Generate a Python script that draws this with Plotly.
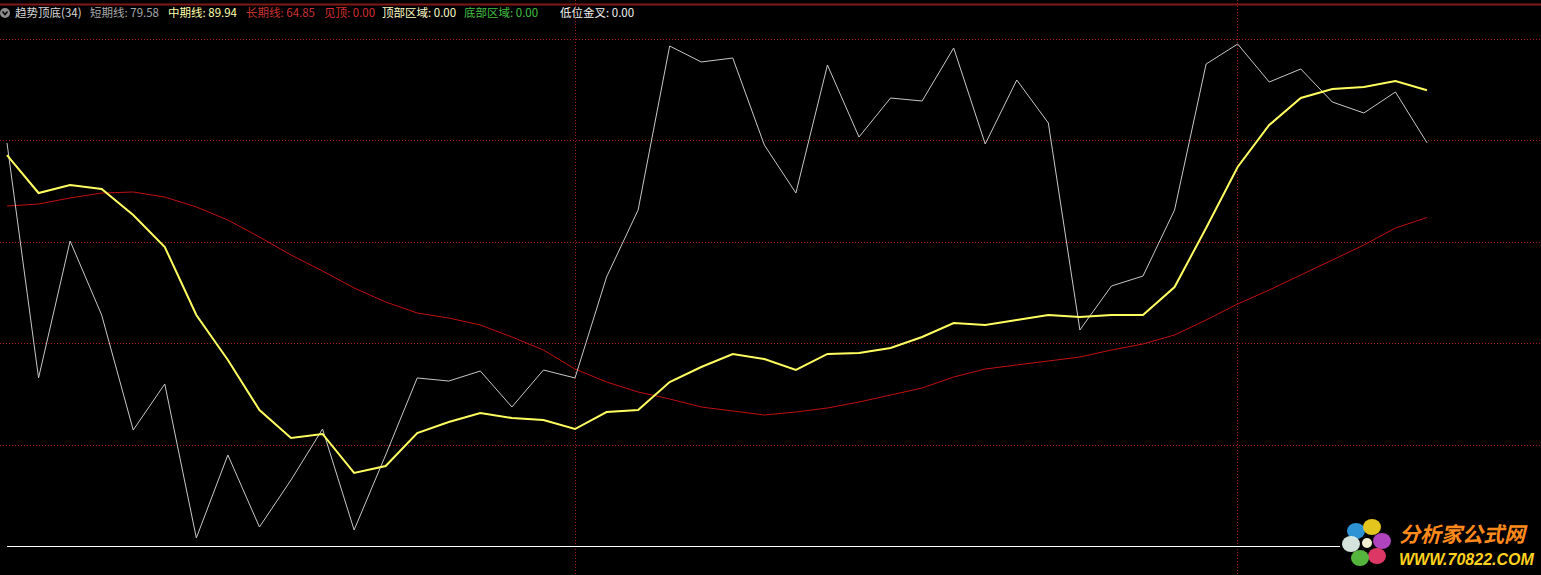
import plotly.graph_objects as go

W, H = 1541, 575

# ---- data ----
short_line = [79.54, 33.22, 60.22, 45.63, 22.96, 32.03, 1.68, 18.04, 3.84, 13.11,
              23.16, 3.25, 18.04, 33.22, 32.62, 34.59, 27.50, 34.79, 33.22, 53.12,
              66.33, 98.66, 95.51, 96.29, 79.14, 69.68, 94.91, 80.72, 88.41, 87.82,
              98.27, 79.34, 91.96, 83.48, 42.68, 51.35, 53.32, 66.33, 95.11, 99.05,
              91.56, 94.13, 87.62, 85.45, 89.59, 79.58]
mid_line = [77.17, 69.68, 71.26, 70.47, 65.35, 59.04, 45.63, 36.76, 26.91, 21.39,
            22.18, 14.49, 15.87, 22.37, 24.54, 26.32, 25.33, 24.94, 23.16, 26.51,
            26.91, 32.43, 35.38, 37.95, 36.96, 34.79, 37.95, 38.14, 39.13, 41.30,
            44.06, 43.66, 44.65, 45.63, 45.24, 45.63, 45.63, 51.15, 62.78, 74.81,
            83.09, 88.41, 90.18, 90.58, 91.76, 89.94]
long_line = [67.12, 67.51, 68.70, 69.68, 69.88, 68.89, 66.92, 64.36, 61.01, 57.46,
             54.31, 50.96, 48.20, 46.03, 45.04, 43.66, 41.30, 38.73, 34.99, 32.43,
             30.46, 29.08, 27.50, 26.71, 25.92, 26.51, 27.30, 28.48, 29.86, 31.24,
             33.41, 34.99, 35.78, 36.57, 37.35, 38.73, 39.92, 41.69, 44.65, 47.80,
             50.56, 53.52, 56.48, 59.43, 62.78, 64.85]
bottom_zone = [0.0] * len(short_line)
x_idx = list(range(len(short_line)))

grid_levels = [20, 40, 60, 80, 100]
divider_idx = [18, 39]

header_items = [
    ("趋势顶底(34)", 13, "#d8d8d8"),
    ("短期线: 79.58", 88, "#a8a8a8"),
    ("中期线: 89.94", 166, "#ffffa8"),
    ("长期线: 64.85", 244, "#c83232"),
    ("见顶: 0.00", 322, "#d83030"),
    ("顶部区域: 0.00", 380, "#ffffc8"),
    ("底部区域: 0.00", 462, "#40c040"),
    ("低位金叉: 0.00", 558, "#f4f4f4"),
]

# ---- helpers for pixel -> paper conversion (styling only) ----
def px(x):
    return x / W

def py(y):
    return 1 - y / H

fig = go.Figure()
fig.add_trace(go.Scatter(x=x_idx, y=bottom_zone, mode="lines",
                         line=dict(color="#ffffff", width=1), hoverinfo="skip"))
fig.add_trace(go.Scatter(x=x_idx, y=long_line, mode="lines",
                         line=dict(color="#c01010", width=1), hoverinfo="skip"))
fig.add_trace(go.Scatter(x=x_idx, y=short_line, mode="lines",
                         line=dict(color="#c8c8c8", width=1), hoverinfo="skip"))
fig.add_trace(go.Scatter(x=x_idx, y=mid_line, mode="lines",
                         line=dict(color="#ffff60", width=2), hoverinfo="skip"))

shapes = []
# top border line
shapes.append(dict(type="line", xref="paper", yref="paper", x0=0, x1=1,
                   y0=py(4.5), y1=py(4.5), line=dict(color="#801818", width=2),
                   layer="below"))
# header icon
shapes.append(dict(type="circle", xref="paper", yref="paper",
                   x0=px(0), x1=px(10), y0=py(18), y1=py(8),
                   fillcolor="#8c8c8c", line=dict(width=0)))
shapes.append(dict(type="path", xref="paper", yref="paper",
                   path=f"M {px(2.5)} {py(11.5)} L {px(5)} {py(14.5)} L {px(7.5)} {py(11.5)}",
                   line=dict(color="#000000", width=1.5)))
# watermark background
shapes.append(dict(type="rect", xref="paper", yref="paper",
                   x0=px(1340), x1=1, y0=0, y1=py(518),
                   fillcolor="#000000", line=dict(width=0), layer="above"))
# watermark flower petals
cx, cy = 1367, 543
petals = [(-11, -12, "#2f9be0"), (5, -16, "#f0d020"), (15, -2, "#b848c8"),
          (10, 13, "#e83a6a"), (-7, 15, "#58c040"), (-16, 1, "#dff0e8")]
for dx, dy, col in petals:
    shapes.append(dict(type="circle", xref="paper", yref="paper",
                       x0=px(cx + dx - 9), x1=px(cx + dx + 9),
                       y0=py(cy + dy + 8), y1=py(cy + dy - 8),
                       fillcolor=col, line=dict(width=0), layer="above", opacity=0.95))
shapes.append(dict(type="circle", xref="paper", yref="paper",
                   x0=px(cx - 5), x1=px(cx + 5), y0=py(cy + 5), y1=py(cy - 5),
                   fillcolor="#f0f0d0", line=dict(width=0), layer="above"))

annotations = []
for text, x0, col in header_items:
    annotations.append(dict(text=text, xref="paper", yref="paper", x=px(x0), y=py(12.5),
                            xanchor="left", yanchor="middle", showarrow=False,
                            font=dict(family="Noto Sans CJK SC", size=11.5, color=col)))
annotations.append(dict(text="<b><i>分析家公式网</i></b>", xref="paper", yref="paper",
                        x=px(1397), y=py(533), xanchor="left", yanchor="middle",
                        showarrow=False,
                        font=dict(family="Noto Sans CJK SC", size=21, color="#ff8a1c")))
annotations.append(dict(text="<b><i>WWW.70822.COM</i></b>", xref="paper", yref="paper",
                        x=px(1397), y=py(559), xanchor="left", yanchor="middle",
                        showarrow=False,
                        font=dict(family="Liberation Sans", size=16, color="#ffd21e")))

# axis ranges so that index 0 sits at 7px and 45 at 1427px; value 0 at 546.5px, 100 at 39.2px
step = (1427 - 7) / 45
x_lo = -7 / step
x_hi = (W - 7) / step
yscale = (546.5 - 39.2) / 100
y_hi = 546.5 / yscale
y_lo = -(H - 546.5) / yscale

fig.update_layout(
    width=W, height=H,
    margin=dict(l=0, r=0, t=0, b=0),
    paper_bgcolor="#000000", plot_bgcolor="#000000",
    showlegend=False,
    shapes=shapes, annotations=annotations,
    xaxis=dict(range=[x_lo, x_hi], showticklabels=False, zeroline=False,
               showline=False, tickvals=divider_idx, showgrid=True,
               gridcolor="#a01c1c", griddash="1px,2px", gridwidth=1, fixedrange=True),
    yaxis=dict(range=[y_lo, y_hi], showticklabels=False, zeroline=False,
               showline=False, tickvals=grid_levels, showgrid=True,
               gridcolor="#9a1c1c", griddash="1px,2px", gridwidth=1, fixedrange=True),
)

fig.write_html("out.html", config={"displayModeBar": False},
               post_script="document.body.style.margin='0';document.body.style.background='#000';")
